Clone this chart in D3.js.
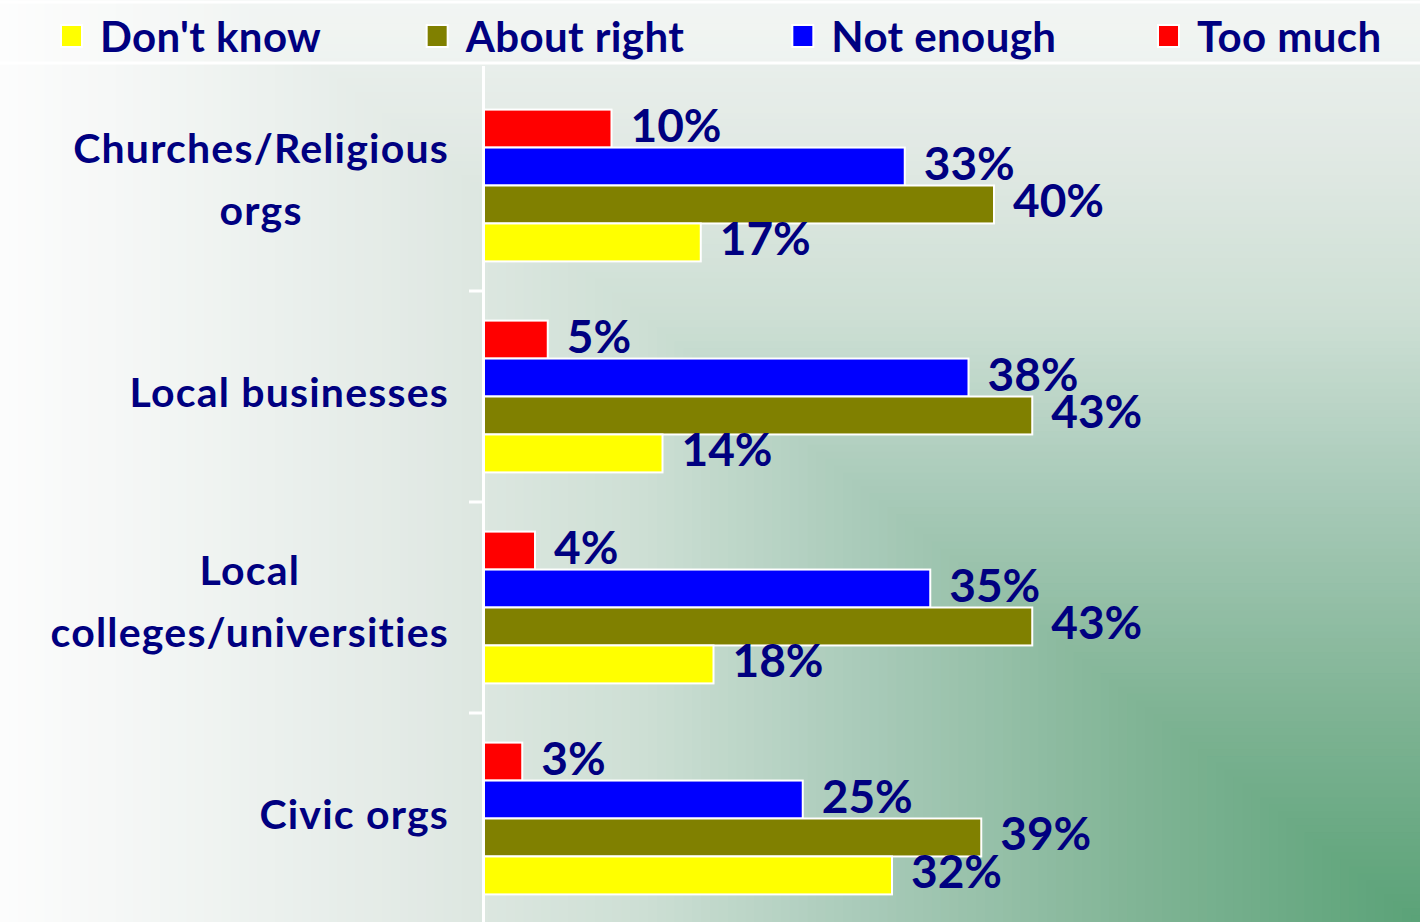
<!DOCTYPE html>
<html>
<head>
<meta charset="utf-8">
<script src="https://cdn.jsdelivr.net/npm/d3@7"></script>
<style>
  html, body { margin: 0; padding: 0; background: #ffffff; }
  svg { display: block; }
  text { font-family: Lato, "Noto Sans", sans-serif; font-weight: bold; fill: #000080; }
</style>
</head>
<body>
<svg id="chart" width="1420" height="922"></svg>
<script>
// Survey results: share of respondents per answer, by type of organisation
const categories = [
  ["Churches/Religious", "orgs"],
  ["Local businesses"],
  ["Local", "colleges/universities"],
  ["Civic orgs"]
];
const seriesNames = ["Too much", "Not enough", "About right", "Don't know"];
const tooMuch    = [10, 5, 4, 3];
const notEnough  = [33, 38, 35, 25];
const aboutRight = [40, 43, 43, 39];
const dontKnow   = [17, 14, 18, 32];
const legendOrder = ["Don't know", "About right", "Not enough", "Too much"];

const colors = {
  "Too much": "#ff0000",
  "Not enough": "#0000ff",
  "About right": "#808000",
  "Don't know": "#ffff00"
};
const valuesBySeries = {
  "Too much": tooMuch,
  "Not enough": notEnough,
  "About right": aboutRight,
  "Don't know": dontKnow
};

const W = 1420, H = 922;
const svg = d3.select("#chart");

// Rectangular gradient backdrop, greenest at the bottom-right corner
const bgColor = d3.scaleLinear()
  .domain([0, 0.2, 0.4, 0.55, 0.7, 0.85, 1])
  .range(["#5aa277", "#80b495", "#aacbba", "#cddfd4", "#e1e9e4", "#eff3f1", "#fcfcfc"])
  .interpolate(d3.interpolateRgb);
const steps = d3.range(1, 0, -1 / 160);
const bgH = H * 1.2;
svg.append("g").selectAll("rect")
  .data(steps)
  .join("rect")
  .attr("x", t => W - t * W)
  .attr("y", t => H - t * bgH)
  .attr("width", t => t * W + 1)
  .attr("height", t => t * bgH + 1)
  .attr("fill", t => bgColor(t));

// Scales
const x = d3.scaleLinear().domain([0, 50]).range([484, 484 + 637.5]);
const y = d3.scaleBand().domain(d3.range(categories.length)).range([80, 924]).padding(0);
const ySub = d3.scaleBand().domain(seriesNames).range([0, y.bandwidth()])
  .paddingInner(0).paddingOuter(0.78);

// Category axis: white line with ticks between groups
const axisG = svg.append("g");
axisG.append("line")
  .attr("x1", 483.5).attr("x2", 483.5)
  .attr("y1", 66).attr("y2", H)
  .attr("stroke", "#ffffff").attr("stroke-width", 3);
axisG.selectAll("line.tick")
  .data(d3.range(1, categories.length))
  .join("line")
  .attr("class", "tick")
  .attr("x1", 469).attr("x2", 484)
  .attr("y1", i => y(i)).attr("y2", i => y(i))
  .attr("stroke", "#ffffff").attr("stroke-width", 3);

// Category labels: each block sits against the axis, lines centred within it
const labelRight = 449;
const catG = svg.append("g").selectAll("text")
  .data(categories)
  .join("text")
  .attr("text-anchor", "middle")
  .style("font-size", "41px")
  .style("letter-spacing", "1.2px");
catG.each(function (lines, i) {
  const cy = y(i) + y.bandwidth() / 2;
  const t = d3.select(this);
  const offsets = lines.length === 1 ? [10] : [-23, 39];
  const spans = lines.map((ln, k) =>
    t.append("tspan").attr("y", cy + offsets[k]).text(ln));
  const widest = d3.max(spans, s => s.node().getComputedTextLength());
  spans.forEach(s => s.attr("x", labelRight - widest / 2));
});

// Bars
const rows = [];
categories.forEach((c, i) => {
  seriesNames.forEach(s => rows.push({ i, s, v: valuesBySeries[s][i] }));
});
const barsG = svg.append("g");
barsG.selectAll("rect")
  .data(rows)
  .join("rect")
  .attr("x", x(0))
  .attr("y", d => y(d.i) + ySub(d.s))
  .attr("width", d => x(d.v) - x(0))
  .attr("height", ySub.bandwidth())
  .attr("fill", d => colors[d.s])
  .attr("stroke", "#ffffff")
  .attr("stroke-width", 2);

// Value labels
svg.append("g").selectAll("text")
  .data(rows)
  .join("text")
  .attr("x", d => x(d.v) + 19)
  .attr("y", d => y(d.i) + ySub(d.s) + ySub.bandwidth() / 2 + 13)
  .style("font-size", "46px")
  .text(d => d.v + "%");

// Legend strip
const legend = svg.append("g");
legend.append("rect")
  .attr("x", -2).attr("y", 2).attr("width", W + 4).attr("height", 61)
  .attr("fill", "#ffffff").attr("fill-opacity", 0.25)
  .attr("stroke", "#ffffff").attr("stroke-width", 3);
const legendX = d3.scalePoint().domain(legendOrder).range([61, 1158]);
const items = legend.selectAll("g.item")
  .data(legendOrder)
  .join("g")
  .attr("class", "item")
  .attr("transform", d => `translate(${legendX(d)},0)`);
items.append("rect")
  .attr("x", 0).attr("y", 25).attr("width", 21).attr("height", 22)
  .attr("fill", d => colors[d])
  .attr("stroke", "#ffffff").attr("stroke-width", 2);
items.append("text")
  .attr("x", 39).attr("y", 52)
  .style("font-size", "42px")
  .style("letter-spacing", "0.4px")
  .text(d => d);
</script>
</body>
</html>
